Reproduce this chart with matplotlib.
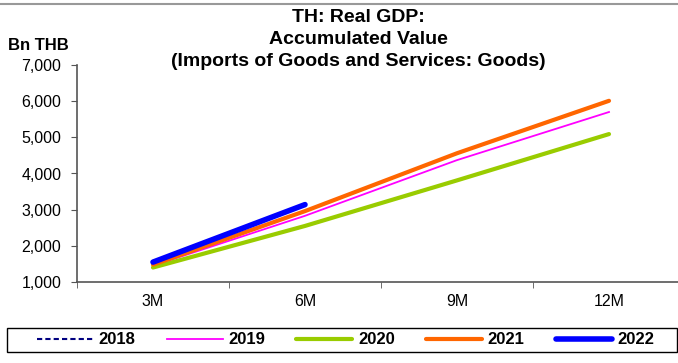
import matplotlib.pyplot as plt
from matplotlib.patches import Rectangle
import numpy as np

# quarters (accumulated)
periods = ['3M', '6M', '9M', '12M']
years = ['2018', '2019', '2020', '2021', '2022']

# Bn THB (2018 not visible in the chart)
v2018 = [np.nan, np.nan, np.nan, np.nan]
v2019 = [1450, 2830, 4370, 5700]
v2020 = [1400, 2550, 3810, 5090]
v2021 = [1480, 2960, 4560, 6010]
v2022 = [1550, 3140, np.nan, np.nan]

plt.rcParams['font.family'] = ['Liberation Sans', 'DejaVu Sans']

fig = plt.figure(figsize=(6.78, 3.63), dpi=100)
ax = fig.add_axes([77 / 678, 1 - 282 / 363, 608 / 678, 217 / 363])

x = np.arange(len(periods))
# draw order: thin first, thick 2022 on top
ax.plot(x, v2018, color='#000080', lw=1.5, ls=(0, (2.5, 1.5)), label='2018')
ax.plot(x, v2019, color='#FF00FF', lw=1.3, label='2019')
ax.plot(x, v2020, color='#99CC00', lw=3, solid_capstyle='round', label='2020')
ax.plot(x, v2021, color='#FF6600', lw=3, solid_capstyle='round', label='2021')
ax.plot(x, v2022, color='#0000FF', lw=4, solid_capstyle='round', label='2022')

ax.set_xlim(-0.5, 3.5)
ax.set_ylim(1000, 7000)
ax.set_yticks(range(1000, 7001, 1000))
ax.set_yticklabels(['{:,}'.format(v) for v in range(1000, 7001, 1000)],
                   fontsize=11.5)
ax.set_xticks(x)
ax.set_xticklabels(periods, fontsize=11.5)
ax.set_xticks(np.arange(-0.5, 3.6, 1), minor=True)
ax.tick_params(axis='x', which='major', length=0, pad=9)
ax.tick_params(axis='x', which='minor', length=4, direction='out',
               color='#555555')
ax.tick_params(axis='y', length=4.3, color='#555555', pad=7)
for s in ['top', 'right']:
    ax.spines[s].set_visible(False)
for s in ['left', 'bottom']:
    ax.spines[s].set_color('#555555')
    ax.spines[s].set_linewidth(1.2)

# title, one line at a time (22 px apart)
title_lines = ['TH: Real GDP:', 'Accumulated Value',
               '(Imports of Goods and Services: Goods)']
for i, line in enumerate(title_lines):
    fig.text(358 / 678, 1 - (18 + 22 * i) / 363, line, ha='center',
             va='center', fontsize=14, fontweight='bold')
fig.text(8 / 678, 1 - 45 / 363, 'Bn THB', ha='left', va='center',
         fontsize=12, fontweight='bold')

# thin gray line on top
fig.add_artist(plt.Line2D([0, 1], [1 - 4 / 363, 1 - 4 / 363],
                          color='#999999', lw=1.5))

# legend box drawn separately so it spans the full width
fig.add_artist(Rectangle((7 / 678, 1 - 352 / 363), 670 / 678, 24 / 363,
                         transform=fig.transFigure, fill=False,
                         edgecolor='black', lw=1))
leg = fig.legend(loc='center left', bbox_to_anchor=(37 / 678, 1 - 340 / 363),
                 ncol=5, frameon=False, fontsize=12, borderpad=0,
                 borderaxespad=0, handlelength=3.35, columnspacing=1.86,
                 handletextpad=0.36)
for t in leg.get_texts():
    t.set_fontweight('bold')

fig.savefig('out.png', dpi=100)
